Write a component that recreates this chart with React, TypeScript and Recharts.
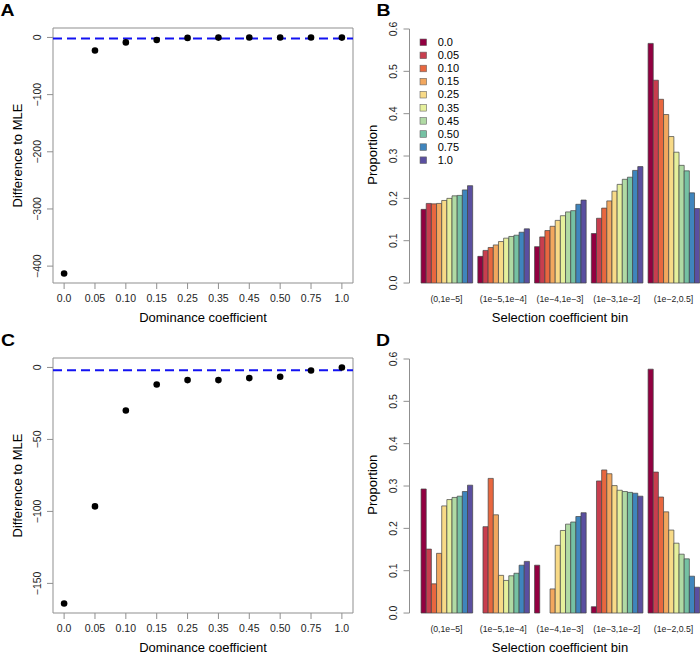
import React from "react";
import {
  Bar,
  BarChart,
  ReferenceArea,
  ReferenceLine,
  Scatter,
  ScatterChart,
  XAxis,
  YAxis,
} from "recharts";

const FONT = "'Liberation Sans', Arial, Helvetica, sans-serif";
const AXIS = "#8f8f8f";
const INK = "#1e1e1e";

// dominance coefficients (x categories of A/C, legend of B/D)
const dominance = ["0.0", "0.05", "0.10", "0.15", "0.25", "0.35", "0.45", "0.50", "0.75", "1.0"];

// difference to MLE (log-likelihood)
const diffA = [-413, -22.8, -8.7, -4.6, -0.8, -0.3, -0.2, 0, -0.2, -0.3];
const diffC = [-164, -96.5, -29.9, -11.8, -8.8, -8.8, -7.4, -6.5, -2.1, 0];
const ticksA = [-400, -300, -200, -100, 0];
const ticksC = [-150, -100, -50, 0];
const mleCutoff = -1.92;

// selection coefficient bins
const bins = ["(0,1e\u22125]", "(1e\u22125,1e\u22124]", "(1e\u22124,1e\u22123]", "(1e\u22123,1e\u22122]", "(1e\u22122,0.5]"];
const propTicks = [0, 0.1, 0.2, 0.3, 0.4, 0.5, 0.6];

// panel B proportions, one array per bin, values in dominance order
const propB1 = [0.174, 0.188, 0.187, 0.188, 0.195, 0.2, 0.206, 0.207, 0.22, 0.23];
const propB2 = [0.063, 0.077, 0.084, 0.09, 0.098, 0.106, 0.11, 0.113, 0.12, 0.128];
const propB3 = [0.086, 0.109, 0.124, 0.134, 0.148, 0.159, 0.168, 0.171, 0.186, 0.196];
const propB4 = [0.117, 0.153, 0.177, 0.194, 0.217, 0.233, 0.245, 0.25, 0.266, 0.275];
const propB5 = [0.566, 0.479, 0.434, 0.398, 0.346, 0.309, 0.278, 0.265, 0.213, 0.176];

// panel D proportions
const propD1 = [0.293, 0.151, 0.069, 0.141, 0.253, 0.268, 0.273, 0.276, 0.287, 0.302];
const propD2 = [0, 0.204, 0.318, 0.232, 0.089, 0.077, 0.088, 0.094, 0.113, 0.122];
const propD3 = [0.113, 0, 0, 0.057, 0.16, 0.195, 0.21, 0.215, 0.228, 0.237];
const propD4 = [0.015, 0.312, 0.338, 0.329, 0.301, 0.29, 0.287, 0.285, 0.283, 0.276];
const propD5 = [0.576, 0.333, 0.274, 0.239, 0.196, 0.165, 0.139, 0.128, 0.087, 0.061];

const colors = [
  "#920041", "#c83e4e", "#e8673f", "#f2a75e", "#f8da87",
  "#e6f09c", "#b0daa4", "#75c1a3", "#3f85bd", "#5a4fa0",
];

// R's default 4% axis extension
const rRange = (lo: number, hi: number) => {
  const d = (hi - lo) * 0.04;
  return [lo - d, hi + d];
};

const minus = (v: number) => (v < 0 ? "\u2212" + Math.abs(v) : String(v));

const VTick = (p: any) => (
  <text
    transform={`translate(${p.x - 6.5},${p.y}) rotate(-90)`}
    textAnchor="middle"
    fontSize={10.5}
    fontFamily={FONT}
    fill={INK}
  >
    {p.fmt(p.payload.value)}
  </text>
);

const XTick = (p: any) => (
  <text x={p.x} y={p.y + 13} textAnchor="middle" fontSize={10.5} fontFamily={FONT} fill={INK}>
    {dominance[Math.round(p.payload.value) - 1]}
  </text>
);

const BinTick = (p: any) => (
  <text x={p.x} y={p.y + 8.3} textAnchor="middle" fontSize={8.7} fontFamily={FONT} fill={INK}>
    {p.payload.value}
  </text>
);

const Dot = (p: any) => <circle cx={p.cx} cy={p.cy} r={3.3} fill="#000" />;

function DiffPanel({ top, values, ticks }: { top: number; values: number[]; ticks: number[] }) {
  const data = values.map((v, i) => ({ x: i + 1, y: v }));
  const xDom = rRange(1, dominance.length);
  const yDom = rRange(Math.min(...values), Math.max(...values));
  return (
    <div style={{ position: "absolute", left: 0, top, width: 360, height: 330 }}>
      <ScatterChart width={360} height={330} margin={{ top: 28, right: 7, bottom: 0, left: 0 }}>
        <XAxis
          type="number"
          dataKey="x"
          domain={xDom}
          ticks={dominance.map((_, i) => i + 1)}
          interval={0}
          height={47}
          axisLine={false}
          tickSize={6}
          tickMargin={0}
          tickLine={{ stroke: AXIS }}
          tick={(p: any) => <XTick {...p} />}
          allowDataOverflow
        />
        <YAxis
          type="number"
          dataKey="y"
          domain={yDom}
          ticks={ticks}
          interval={0}
          width={53}
          axisLine={false}
          tickSize={6}
          tickMargin={0}
          tickLine={{ stroke: AXIS }}
          tick={(p: any) => <VTick {...p} fmt={minus} />}
          allowDataOverflow
        />
        <ReferenceArea
          x1={xDom[0]}
          x2={xDom[1]}
          y1={yDom[0]}
          y2={yDom[1]}
          fill="none"
          fillOpacity={0}
          stroke={AXIS}
          strokeWidth={1}
        />
        <ReferenceLine y={mleCutoff} stroke="#1212f2" strokeWidth={2} strokeDasharray="9 5" />
        <Scatter data={data} shape={Dot} isAnimationActive={false} />
      </ScatterChart>
    </div>
  );
}

function PropPanel({ top, rows }: { top: number; rows: number[][] }) {
  const data = bins.map((b, j) => {
    const r: any = { bin: b };
    dominance.forEach((_, i) => (r["h" + i] = rows[j][i]));
    return r;
  });
  return (
    <div style={{ position: "absolute", left: 350, top, width: 370, height: 330 }}>
      <BarChart
        width={370}
        height={330}
        data={data}
        margin={{ top: 18.84, right: 9.6, bottom: 0, left: 0 }}
        barGap={0}
        barSize={5.16}
      >
        <XAxis
          dataKey="bin"
          type="category"
          padding={{ left: 8.57, right: 8.57 }}
          height={36.8}
          axisLine={false}
          tickLine={false}
          tickSize={0}
          tickMargin={0}
          interval={0}
          tick={(p: any) => <BinTick {...p} />}
        />
        <YAxis
          type="number"
          domain={rRange(0, 0.6)}
          ticks={propTicks}
          interval={0}
          width={59.5}
          axisLine={false}
          tickSize={6}
          tickMargin={0}
          tickLine={{ stroke: AXIS }}
          tick={(p: any) => <VTick {...p} fmt={(v: number) => v.toFixed(1)} />}
          allowDataOverflow
        />
        {dominance.map((d, i) => (
          <Bar
            key={d}
            dataKey={"h" + i}
            fill={colors[i]}
            stroke="#444"
            strokeWidth={0.7}
            isAnimationActive={false}
          />
        ))}
      </BarChart>
    </div>
  );
}

function Overlay() {
  const letter = (t: string, x: number, y: number) => (
    <text x={x} y={y} fontSize={16} fontWeight={900} fontFamily={FONT} fill="#000" textLength={14} lengthAdjust="spacingAndGlyphs">
      {t}
    </text>
  );
  const vTitle = (t: string, x: number, y: number) => (
    <text transform={`translate(${x},${y}) rotate(-90)`} textAnchor="middle" fontSize={13} fontFamily={FONT} fill="#000">
      {t}
    </text>
  );
  const hTitle = (t: string, x: number, y: number) => (
    <text x={x} y={y} textAnchor="middle" fontSize={13} fontFamily={FONT} fill="#000">
      {t}
    </text>
  );
  return (
    <svg width={700} height={653} style={{ position: "absolute", left: 0, top: 0, pointerEvents: "none" }}>
      {letter("A", 0.5, 15.5)}
      {letter("B", 376.5, 15.5)}
      {letter("C", 1, 345.5)}
      {letter("D", 376, 345.5)}
      {vTitle("Difference to MLE", 21.5, 155.5)}
      {vTitle("Difference to MLE", 21.5, 485.5)}
      {hTitle("Dominance coefficient", 203, 321.5)}
      {hTitle("Dominance coefficient", 203, 651.5)}
      {vTitle("Proportion", 377, 154.7)}
      {vTitle("Proportion", 377, 484.7)}
      {hTitle("Selection coefficient bin", 560, 321.5)}
      {hTitle("Selection coefficient bin", 560, 651.5)}
      <line x1={409.5} x2={409.5} y1={29} y2={283} stroke={AXIS} />
      <line x1={409.5} x2={409.5} y1={359} y2={613} stroke={AXIS} />
      {dominance.map((d, i) => (
        <g key={d}>
          <rect x={420} y={39 + i * 13.1} width={6.6} height={6.6} fill={colors[i]} stroke="#666" strokeWidth={0.6} />
          <text x={437.7} y={46 + i * 13.1} fontSize={11} fontFamily={FONT} fill="#000">
            {d}
          </text>
        </g>
      ))}
    </svg>
  );
}

export default function App() {
  return (
    <div
      style={{
        position: "absolute",
        left: 0,
        top: 0,
        width: 700,
        height: 653,
        overflow: "hidden",
        background: "#fff",
        fontFamily: FONT,
      }}
    >
      <DiffPanel top={0} values={diffA} ticks={ticksA} />
      <DiffPanel top={330} values={diffC} ticks={ticksC} />
      <PropPanel top={0} rows={[propB1, propB2, propB3, propB4, propB5]} />
      <PropPanel top={330} rows={[propD1, propD2, propD3, propD4, propD5]} />
      <Overlay />
    </div>
  );
}
